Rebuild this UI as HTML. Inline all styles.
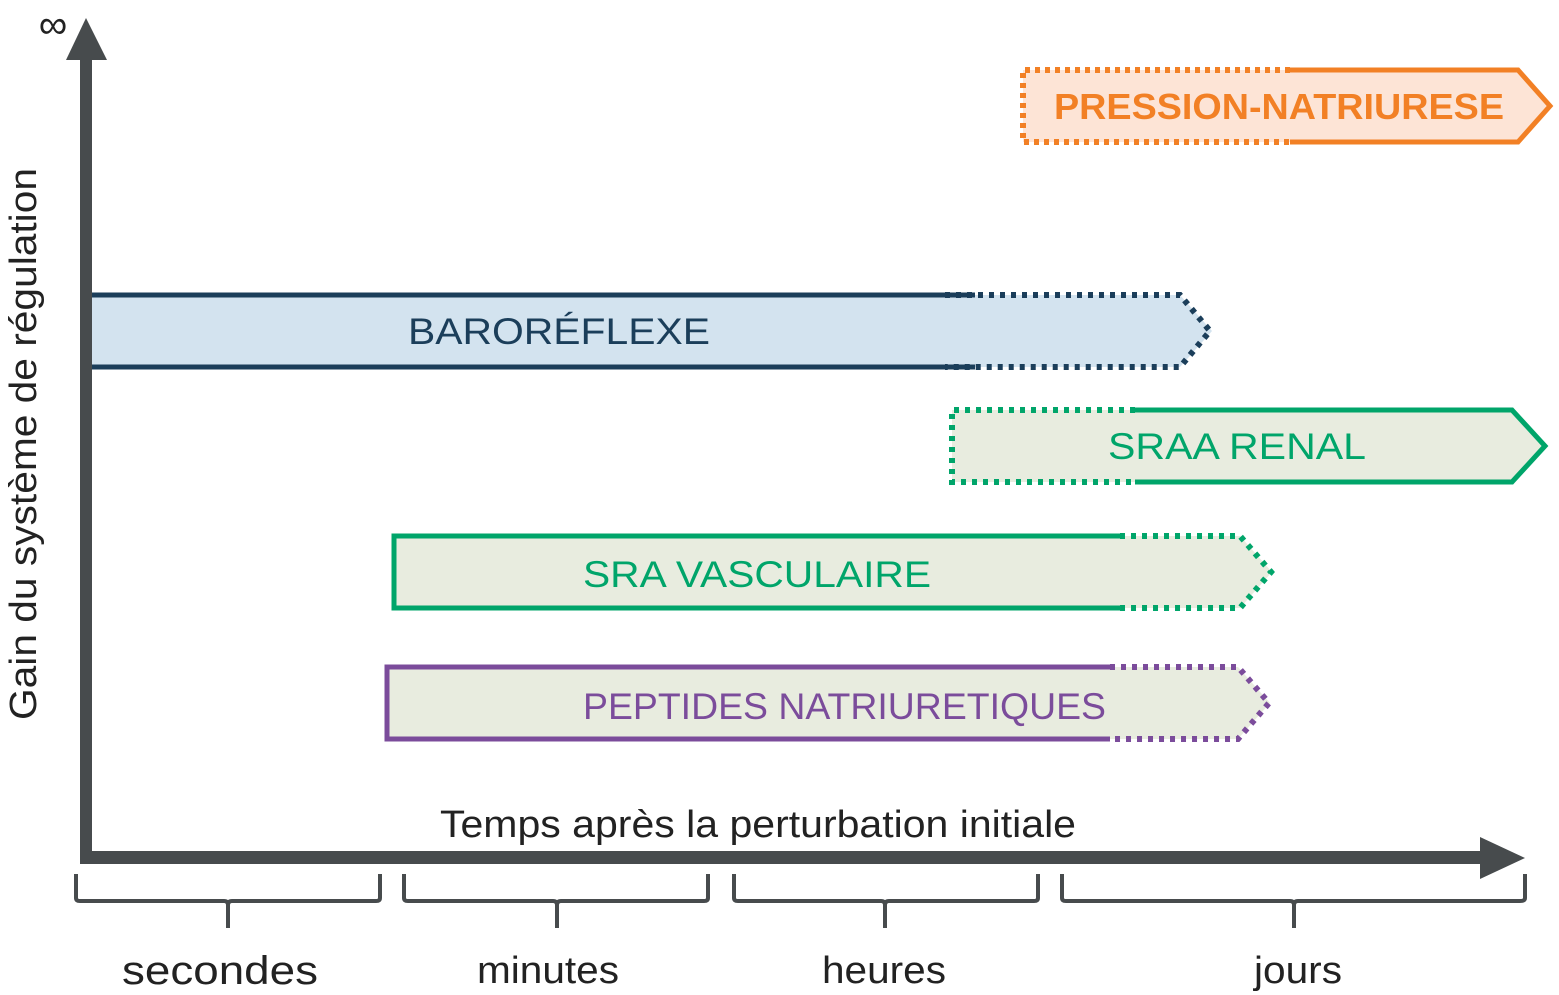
<!DOCTYPE html>
<html><head><meta charset="utf-8"><style>
html,body{margin:0;padding:0;background:#fff;width:1559px;height:995px;overflow:hidden}
svg{display:block;font-family:"Liberation Sans",Arial,sans-serif}
</style></head><body>
<svg width="1559" height="995" viewBox="0 0 1559 995" xmlns="http://www.w3.org/2000/svg">
<!-- Pression-natriurese -->
<path d="M1023,70 L1518,70 L1552,106 L1518,142 L1023,142 Z" fill="#fde4d6"/>
<path d="M1290,70 L1023,70 L1023,142 L1290,142" fill="none" stroke="#f28025" stroke-width="6" stroke-dasharray="5,5"/>
<path d="M1290,70 L1518,70 L1550,106 L1518,142 L1290,142" fill="none" stroke="#f28025" stroke-width="5"/>
<text x="1054" y="119" font-size="36" font-weight="bold" fill="#f28025" textLength="450" lengthAdjust="spacingAndGlyphs">PRESSION-NATRIURESE</text>

<!-- Baroreflexe -->
<path d="M86,295 L1180,295 L1212,331 L1180,367 L86,367 Z" fill="#d3e3ef"/>
<path d="M975,295 L86,295 L86,367 L975,367" fill="none" stroke="#1b3e5a" stroke-width="5"/>
<path d="M945,295 L1180,295 L1210,331 L1180,367 L945,367" fill="none" stroke="#1b3e5a" stroke-width="6" stroke-dasharray="5,6"/>
<text x="408" y="344" font-size="37" fill="#1b3e5a" textLength="302" lengthAdjust="spacingAndGlyphs">BAROR&#201;FLEXE</text>

<!-- SRAA renal -->
<path d="M952,410 L1512,410 L1546,446 L1512,482 L952,482 Z" fill="#e8ecdf"/>
<path d="M1135,410 L952,410 L952,482 L1135,482" fill="none" stroke="#00a56a" stroke-width="6" stroke-dasharray="5,6"/>
<path d="M1135,410 L1512,410 L1545,446 L1512,482 L1135,482" fill="none" stroke="#00a56a" stroke-width="5"/>
<text x="1108" y="459" font-size="37" fill="#00a56a" textLength="258" lengthAdjust="spacingAndGlyphs">SRAA RENAL</text>

<!-- SRA vasculaire -->
<path d="M394,536 L1240,536 L1272,572 L1240,608 L394,608 Z" fill="#e8ecdf"/>
<path d="M1120,536 L394,536 L394,608 L1120,608" fill="none" stroke="#00a56a" stroke-width="5"/>
<path d="M1120,536 L1240,536 L1271,572 L1240,608 L1120,608" fill="none" stroke="#00a56a" stroke-width="6" stroke-dasharray="5,6"/>
<text x="583" y="587" font-size="37" fill="#00a56a" textLength="348" lengthAdjust="spacingAndGlyphs">SRA VASCULAIRE</text>

<!-- Peptides -->
<path d="M387,667 L1238,667 L1270,703 L1238,739 L387,739 Z" fill="#e8ecdf"/>
<path d="M1110,667 L387,667 L387,739 L1110,739" fill="none" stroke="#7b4c9b" stroke-width="5"/>
<path d="M1110,667 L1238,667 L1269,703 L1238,739 L1110,739" fill="none" stroke="#7b4c9b" stroke-width="6" stroke-dasharray="5,6"/>
<text x="583" y="719" font-size="37" fill="#7b4c9b" textLength="523" lengthAdjust="spacingAndGlyphs">PEPTIDES NATRIURETIQUES</text>

<!-- Axes -->
<rect x="80" y="55" width="12" height="809" fill="#474b4d"/>
<polygon points="86,18 66,60 107,60" fill="#474b4d"/>
<rect x="80" y="851" width="1405" height="13" fill="#474b4d"/>
<polygon points="1525,858 1480,837 1480,879" fill="#474b4d"/>

<text x="53" y="38" font-size="40" fill="#222" text-anchor="middle">∞</text>
<text transform="translate(36,444) rotate(-90)" font-size="38" fill="#222" text-anchor="middle" textLength="552" lengthAdjust="spacingAndGlyphs">Gain du système de régulation</text>
<text x="440" y="837" font-size="38" fill="#222" textLength="636" lengthAdjust="spacingAndGlyphs">Temps après la perturbation initiale</text>

<!-- Braces -->
<g fill="none" stroke="#474b4d" stroke-width="4">
<path d="M76,874 L76,898 Q76,901 80,901 L224,901 Q228,901 228,905 L228,928 M228,905 Q228,901 232,901 L376,901 Q380,901 380,898 L380,874"/>
<path d="M404,874 L404,898 Q404,901 408,901 L553,901 Q557,901 557,905 L557,928 M557,905 Q557,901 561,901 L704,901 Q708,901 708,898 L708,874"/>
<path d="M734,874 L734,898 Q734,901 738,901 L881,901 Q885,901 885,905 L885,928 M885,905 Q885,901 889,901 L1034,901 Q1038,901 1038,898 L1038,874"/>
<path d="M1062,874 L1062,898 Q1062,901 1066,901 L1290,901 Q1294,901 1294,905 L1294,928 M1294,905 Q1294,901 1298,901 L1520,901 Q1525,901 1525,898 L1525,874"/>
</g>
<g font-size="40" fill="#222" text-anchor="middle">
<text x="220" y="984" textLength="196" lengthAdjust="spacingAndGlyphs">secondes</text>
<text x="548" y="983" font-size="38" textLength="142" lengthAdjust="spacingAndGlyphs">minutes</text>
<text x="884" y="983" font-size="38" textLength="124" lengthAdjust="spacingAndGlyphs">heures</text>
<text x="1298" y="983" font-size="38" textLength="88" lengthAdjust="spacingAndGlyphs">jours</text>
</g>
</svg>
</body></html>
